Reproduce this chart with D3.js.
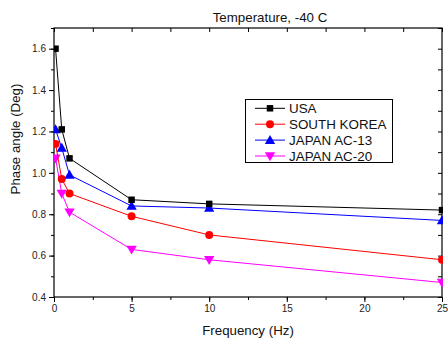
<!DOCTYPE html>
<html>
<head>
<meta charset="utf-8">
<script src="https://cdn.jsdelivr.net/npm/d3@7"></script>
<style>
  html, body { margin: 0; padding: 0; background: #fff; }
  svg { display: block; font-family: "Liberation Sans", Arial, sans-serif; }
</style>
</head>
<body>
<svg id="chart" width="448" height="338"></svg>
<script>
// Frequency sweep (Hz) shared by every series
const frequencies = [0.1, 0.5, 1, 5, 10, 25];

// Phase angle (deg) at -40 C for each binder
const usa        = [1.60, 1.21, 1.07, 0.87, 0.85, 0.82];
const southKorea = [1.14, 0.97, 0.90, 0.79, 0.70, 0.58];
const japanAC13  = [1.21, 1.12, 0.99, 0.84, 0.83, 0.77];
const japanAC20  = [1.07, 0.90, 0.81, 0.63, 0.58, 0.47];

const seriesNames = ["USA", "SOUTH KOREA", "JAPAN AC-13", "JAPAN AC-20"];
const seriesColors = ["#000000", "#ff0000", "#0000ff", "#ff00ff"];
const seriesSymbols = ["square", "circle", "triangle", "triangleDown"];

const xTicks = [0, 5, 10, 15, 20, 25];
const yTicks = [0.4, 0.6, 0.8, 1.0, 1.2, 1.4, 1.6];

const titleText = "Temperature, -40 C";
const xLabel = "Frequency (Hz)";
const yLabel = "Phase angle (Deg)";

const svg = d3.select("#chart");
const L = 54, R = 442, T = 28, B = 297;

const x = d3.scaleLinear().domain([0, 25]).range([L, R]);
const y = d3.scaleLinear().domain([0.4, 1.7]).range([B, T]);

const minorX = d3.range(0, 25.01, 2.5);
const minorY = d3.range(0.4, 1.701, 0.1).map(v => +v.toFixed(2));

// Bottom axis: outward ticks
const gB = svg.append("g").attr("transform", `translate(0,${B})`);
gB.call(d3.axisBottom(x).tickValues(minorX).tickSize(3).tickFormat(""));
gB.call(g => g.append("g").call(d3.axisBottom(x).tickValues(xTicks).tickSize(5).tickPadding(3).tickFormat(d3.format("d"))));
// Left axis: outward ticks
const gL = svg.append("g").attr("transform", `translate(${L},0)`);
gL.call(d3.axisLeft(y).tickValues(minorY).tickSize(3).tickFormat(""));
gL.call(g => g.append("g").call(d3.axisLeft(y).tickValues(yTicks).tickSize(5).tickPadding(3).tickFormat(d3.format(".1f"))));
// Top axis: inward ticks
const gT = svg.append("g").attr("transform", `translate(0,${T})`);
gT.call(d3.axisTop(x).tickValues(minorX).tickSize(-4).tickFormat(""));
// Right axis: inward ticks
const gR = svg.append("g").attr("transform", `translate(${R},0)`);
gR.call(d3.axisRight(y).tickValues(minorY).tickSize(-4).tickFormat(""));

svg.selectAll(".domain").remove();
svg.selectAll(".tick line").attr("stroke", "#000").attr("stroke-width", 1);
svg.selectAll(".tick text").attr("fill", "#222").style("font-size", "10px").style("font-family", "Liberation Sans, Arial, sans-serif");

// Frame
svg.append("rect")
  .attr("x", L).attr("y", T).attr("width", R - L).attr("height", B - T)
  .attr("fill", "none").attr("stroke", "#000").attr("stroke-width", 1.2);

// Clip region for the data
svg.append("defs").append("clipPath").attr("id", "plotClip")
  .append("rect").attr("x", L).attr("y", T - 10).attr("width", R - L + 1).attr("height", B - T + 10);

const symbolType = {
  square: d3.symbolSquare,
  circle: d3.symbolCircle,
  triangle: d3.symbolTriangle,
  triangleDown: d3.symbolTriangle
};
function symbolPath(name) {
  const size = name === "square" ? 42 : name === "circle" ? 50 : 46;
  return d3.symbol().type(symbolType[name]).size(size)();
}
function symbolTransform(name, px, py) {
  if (name === "triangle") return `translate(${px},${py + 0.8})`;
  if (name === "triangleDown") return `translate(${px},${py - 0.8}) rotate(180)`;
  return `translate(${px},${py})`;
}

const allSeries = [usa, southKorea, japanAC13, japanAC20];
const line = d3.line().x(d => x(d[0])).y(d => y(d[1]));
const plot = svg.append("g").attr("clip-path", "url(#plotClip)");

// Draw bottom series first so USA stays on top
[3, 1, 2, 0].forEach(i => {
  const pts = frequencies.map((f, j) => [f, allSeries[i][j]]);
  const g = plot.append("g");
  g.append("path").attr("d", line(pts)).attr("fill", "none")
    .attr("stroke", seriesColors[i]).attr("stroke-width", 1);
  g.selectAll("path.sym").data(pts).enter().append("path").attr("class", "sym")
    .attr("d", symbolPath(seriesSymbols[i]))
    .attr("transform", d => symbolTransform(seriesSymbols[i], x(d[0]), y(d[1])))
    .attr("fill", seriesColors[i]);
});

// Legend
const lg = svg.append("g");
lg.append("rect").attr("x", 245.5).attr("y", 99.5).attr("width", 147).attr("height", 63)
  .attr("fill", "#fff").attr("stroke", "#000").attr("stroke-width", 1);
seriesNames.forEach((name, i) => {
  const cy = 108.3 + i * 15.9;
  lg.append("line").attr("x1", 255).attr("x2", 285).attr("y1", cy).attr("y2", cy)
    .attr("stroke", seriesColors[i]).attr("stroke-width", 1);
  lg.append("path").attr("d", symbolPath(seriesSymbols[i]))
    .attr("transform", symbolTransform(seriesSymbols[i], 270, cy))
    .attr("fill", seriesColors[i]);
  lg.append("text").attr("x", 289).attr("y", cy).attr("dy", "0.36em")
    .style("font-size", "13.4px").attr("fill", "#111").text(name);
});

// Title and axis labels
svg.append("text").attr("x", 270).attr("y", 21.5).attr("text-anchor", "middle")
  .style("font-size", "13.3px").attr("fill", "#111").text(titleText);
svg.append("text").attr("x", 248).attr("y", 335).attr("text-anchor", "middle")
  .style("font-size", "13.3px").attr("fill", "#111").text(xLabel);
svg.append("text").attr("transform", "translate(19.5,139) rotate(-90)").attr("text-anchor", "middle")
  .style("font-size", "13.3px").attr("fill", "#111").text(yLabel);
</script>
</body>
</html>
